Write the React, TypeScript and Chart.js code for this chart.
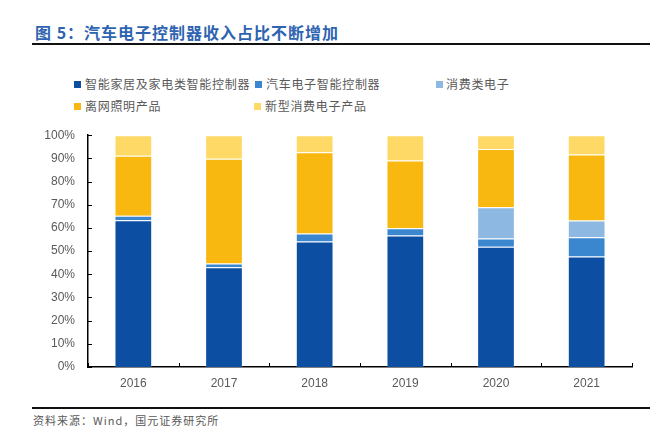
import React, { useEffect, useRef } from "react";
import { Chart, registerables } from "chart.js";

Chart.register(...registerables);

const categories = ["2016", "2017", "2018", "2019", "2020", "2021"];
const smartHome = [63.3, 43.0, 54.1, 56.7, 51.9, 47.7];
const autoElec = [2.0, 1.7, 3.5, 3.2, 3.5, 8.3];
const consumerElec = [0, 0, 0, 0, 13.5, 7.2];
const offGrid = [25.8, 45.1, 35.0, 29.2, 25.2, 28.5];
const newConsumer = [8.9, 10.2, 7.4, 10.9, 5.9, 8.3];

const seriesNames = [
  "智能家居及家电类智能控制器",
  "汽车电子智能控制器",
  "消费类电子",
  "离网照明产品",
  "新型消费电子产品",
];
const seriesData = [smartHome, autoElec, consumerElec, offGrid, newConsumer];
const seriesColors = ["#0B4EA2", "#3A87CF", "#8DB8E2", "#F8B80F", "#FFD966"];
const yTicks = [0, 10, 20, 30, 40, 50, 60, 70, 80, 90, 100];

const legendPos = [
  { left: 74, top: 84 },
  { left: 255, top: 84 },
  { left: 436, top: 84 },
  { left: 74, top: 106 },
  { left: 254, top: 106 },
];

const innerTicks = {
  id: "innerTicks",
  afterDraw(chart: any) {
    const ctx = chart.ctx;
    const x = chart.scales.x;
    const y = chart.scales.y;
    ctx.save();
    ctx.strokeStyle = "#000";
    ctx.lineWidth = 1;
    ctx.beginPath();
    yTicks.forEach((v) => {
      const py = Math.round(y.getPixelForValue(v)) + 0.5;
      ctx.moveTo(x.left, py);
      ctx.lineTo(x.left + 4, py);
    });
    const n = categories.length;
    for (let i = 0; i <= n; i++) {
      const c = x.getPixelForValue(0);
      const w = (x.right - x.left) / n;
      const px = Math.round(c - w / 2 + i * w) + 0.5;
      ctx.moveTo(px, y.bottom);
      ctx.lineTo(px, y.bottom - 4);
    }
    ctx.stroke();
    ctx.restore();
  },
};

export default function App() {
  const ref = useRef<HTMLCanvasElement>(null);
  useEffect(() => {
    if (!ref.current) return;
    const chart = new Chart(ref.current, {
      type: "bar",
      data: {
        labels: categories,
        datasets: seriesNames.map((name, i) => ({
          label: name,
          data: seriesData[i],
          backgroundColor: seriesColors[i],
          borderColor: "rgba(255,255,255,0.2)",
          borderWidth: 1,
          barPercentage: 0.416,
          categoryPercentage: 1,
        })),
      },
      options: {
        animation: false,
        responsive: false,
        maintainAspectRatio: false,
        layout: { padding: { top: 0, right: 39, left: 0, bottom: 0 } },
        plugins: { legend: { display: false }, tooltip: { enabled: false } },
        scales: {
          x: {
            stacked: true,
            grid: { display: false, drawTicks: false },
            border: { display: true, color: "#000", width: 1.5 },
            ticks: {
              color: "#595959",
              font: { family: "'Liberation Sans', Arial, sans-serif", size: 12 },
              padding: 9,
            },
            afterFit(s: any) {
              s.height = 33;
            },
          },
          y: {
            stacked: true,
            min: 0,
            max: 100,
            grid: { display: false, drawTicks: false },
            border: { display: true, color: "#000", width: 1.5 },
            ticks: {
              stepSize: 10,
              color: "#595959",
              font: { family: "'Liberation Sans', Arial, sans-serif", size: 12 },
              padding: 13,
              callback: (v: any) => v + "%",
            },
            afterFit(s: any) {
              s.width = 88;
            },
          },
        },
      },
      plugins: [innerTicks],
    });
    return () => chart.destroy();
  }, []);

  const cjk = "'Noto Sans CJK SC', 'Noto Sans', sans-serif";
  return (
    <div
      style={{
        position: "fixed",
        left: 0,
        top: 0,
        width: 671,
        height: 437,
        background: "#fff",
        overflow: "hidden",
      }}
    >
      <div
        style={{
          position: "absolute",
          left: 35,
          top: 21,
          height: 22,
          lineHeight: "22px",
          fontFamily: cjk,
          fontWeight: 700,
          fontSize: 16,
          letterSpacing: 1,
          color: "#2E64B0",
          whiteSpace: "nowrap",
        }}
      >
        图 5：汽车电子控制器收入占比不断增加
      </div>
      <div
        style={{
          position: "absolute",
          left: 32,
          top: 43,
          width: 618,
          height: 2,
          background: "#111",
        }}
      />
      {seriesNames.map((name, i) => (
        <div
          key={name}
          style={{
            position: "absolute",
            left: legendPos[i].left,
            top: legendPos[i].top - 9,
            height: 18,
            lineHeight: "18px",
            display: "flex",
            alignItems: "center",
            whiteSpace: "nowrap",
            fontFamily: cjk,
            fontSize: 12,
            letterSpacing: 0.7,
            color: "#595959",
          }}
        >
          <span
            style={{
              display: "inline-block",
              width: 7,
              height: 7,
              background: seriesColors[i],
              marginRight: i === 2 ? 3 : 4,
            }}
          />
          {name}
        </div>
      ))}
      <canvas
        ref={ref}
        width={671}
        height={285}
        style={{ position: "absolute", left: 0, top: 115, width: 671, height: 285 }}
      />
      <div
        style={{
          position: "absolute",
          left: 32,
          top: 407,
          width: 618,
          height: 2,
          background: "#111",
        }}
      />
      <div
        style={{
          position: "absolute",
          left: 33,
          top: 412,
          height: 16,
          lineHeight: "16px",
          fontFamily: cjk,
          fontSize: 11,
          letterSpacing: 1,
          color: "#595959",
          whiteSpace: "nowrap",
        }}
      >
        资料来源：Wind，国元证券研究所
      </div>
    </div>
  );
}
